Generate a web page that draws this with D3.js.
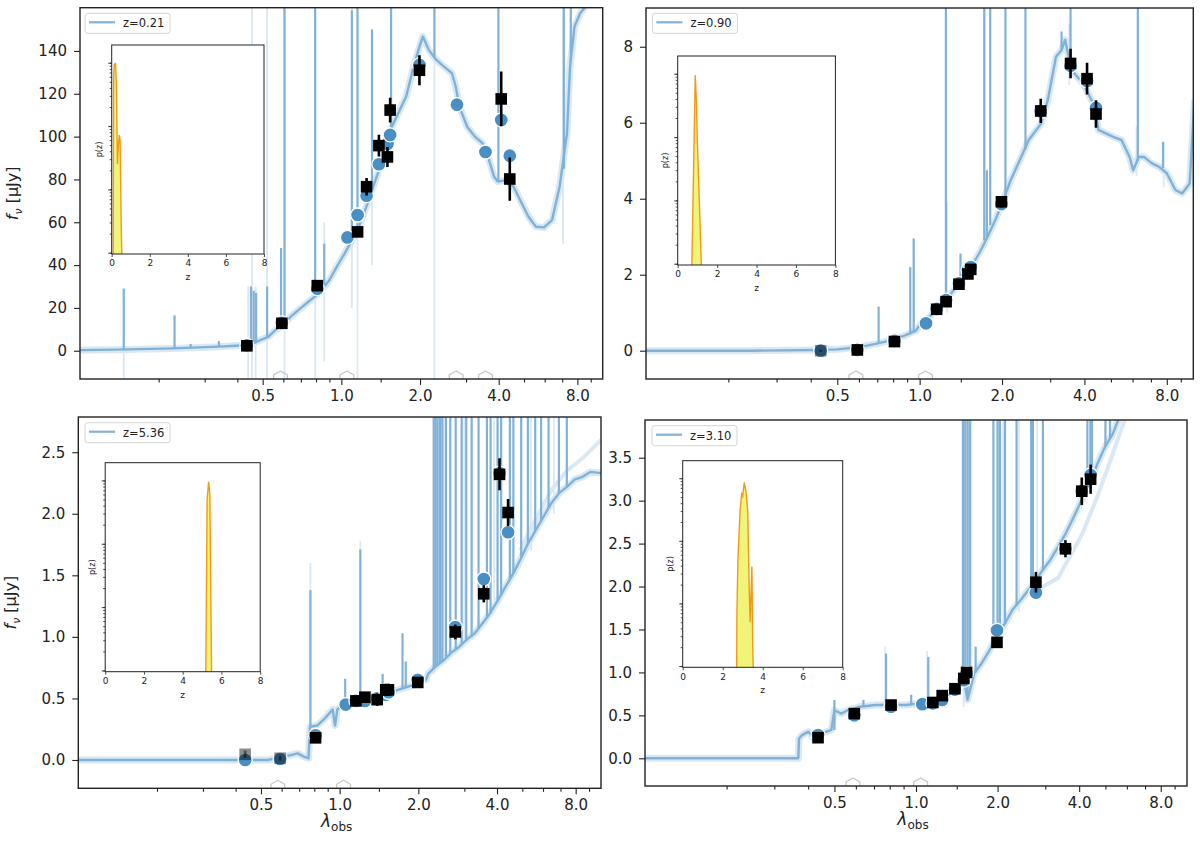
<!DOCTYPE html>
<meta charset="utf-8">
<style>
  body { margin: 0; background: #fff; }
  svg { font-family: "DejaVu Sans", sans-serif; }
</style>
<svg width="1200" height="846"></svg>
<script src="https://cdn.jsdelivr.net/npm/d3@7"></script>
<script>
// filter pivot wavelengths (micron), shared by all four objects
var filterWave = [0.435, 0.592, 0.809, 1.055, 1.154, 1.249, 1.392, 1.501, 1.537, 1.990, 2.77, 3.56, 4.09, 4.41];
var xMajor = [0.5, 1, 2, 4, 8];
var xMinor = [0.2, 0.3, 0.4, 0.6, 0.7, 0.8, 0.9, 1.414, 3, 5, 6, 7, 9];
var zTicks = [0, 2, 4, 6, 8];
var zLabels = ['z=0.21', 'z=0.90', 'z=5.36', 'z=3.10'];

// ---- panel 1 : z=0.21 ----
var tlSpec = [[0.1, 0.3], [0.137, 0.5], [0.227, 1.1], [0.34, 1.9], [0.395, 2.3], [0.43, 2.6], [0.46, 3.4], [0.49, 5.0],
  [0.525, 6.5], [0.56, 9.7], [0.6, 12], [0.64, 15.9], [0.71, 20.6], [0.79, 25.2], [0.84, 28.3], [0.9, 33], [0.96, 39.2],
  [1.03, 45.5], [1.1, 51.7], [1.18, 59.5], [1.26, 68.8], [1.35, 79.7], [1.44, 89.1], [1.54, 103.1], [1.65, 110.9],
  [1.77, 118.7], [1.89, 132.7], [1.99, 142], [2.05, 146.7], [2.16, 140.5], [2.31, 135.8], [2.47, 132.7], [2.65, 129.6],
  [2.74, 123.3], [2.83, 114], [3.03, 104.6], [3.24, 100], [3.47, 96.9], [3.64, 90.6], [3.84, 81.3], [3.97, 79],
  [4.26, 79.7], [4.56, 76.6], [4.83, 70.4], [5.2, 62.6], [5.55, 57.9], [5.96, 57.6], [6.4, 61], [6.84, 76.6],
  [7.3, 101.5], [7.5, 132.7], [7.8, 151.4], [8.2, 157.6], [8.6, 160.7], [9.5, 171]];
var tlSpikes = [[0.147, 0.5, 29], [0.23, 1.1, 16.5], [0.265, 1.2, 3.2], [0.34, 1.9, 4.5], [0.451, 3.2, 30], [0.462, 3.5, 28],
  [0.472, 4.2, 27], [0.52, 6.3, 30], [0.588, 11.5, 48], [0.606, 12.4, 175], [0.794, 25, 175], [0.86, 30, 50],
  [1.097, 51, 159], [1.153, 58, 175], [1.31, 75, 150], [1.55, 104, 175], [2.27, 137, 175], [3.99, 79, 175],
  [7.1, 85, 175], [7.55, 135, 175]];
var tlPale = [[0.147, -14, 29], [0.44, -14, 30], [0.455, -14, 175], [0.47, -14, 30], [0.52, -14, 165], [0.606, -14, 175],
  [0.794, -14, 175], [0.86, -5, 60], [1.097, 20, 175], [1.153, -14, 175], [1.31, 40, 150], [2.27, -14, 175], [7.05, 50, 175]];
var tlModel = [2.5, 13, 29, 52.9, 63.4, 72.4, 87.1, 96.6, 100.8, 133.5, 114.9, 92.8, 107.8, 91.1];
var tlObs = [2.3, 12.8, 30.4, null, 55.5, 76.6, 95.8, 90.5, 112.4, 131.0, null, null, 117.6, 80.2];
var tlErr = [1, 1, 1.5, null, 2, 4.1, 5.1, 4.7, 5.8, 7.0, null, null, 12.8, 10.1];
var tlHex = [0.585, 1.05, 2.75, 3.56];
var tlPdfZ = [0.08, 0.10, 0.14, 0.20, 0.25, 0.30, 0.35, 0.40, 0.44, 0.50, 0.53];
var tlPdfP = [1e-4, 0.6, 0.95, 0.97, 0.4, 0.025, 0.05, 0.072, 0.06, 0.003, 1e-4];

// ---- panel 2 : z=0.90 ----
var trSpec = [[0.1, 0], [0.245, 0], [0.41, 0.02], [0.5, 0.035], [0.61, 0.1], [0.69, 0.18], [0.79, 0.28], [0.89, 0.41],
  [0.97, 0.53], [1.0, 0.68], [1.09, 0.9], [1.16, 1.11], [1.26, 1.38], [1.38, 1.73], [1.53, 2.17], [1.65, 2.56],
  [1.76, 2.96], [1.89, 3.44], [2.0, 3.86], [2.14, 4.45], [2.35, 5.1], [2.5, 5.54], [2.78, 5.98], [2.94, 6.6],
  [3.15, 7.74], [3.3, 7.91], [3.4, 8.18], [3.59, 7.39], [3.95, 7.04], [4.37, 6.42], [4.5, 5.81], [4.79, 5.72],
  [5.1, 5.63], [5.47, 5.54], [5.85, 5.1], [6.03, 4.75], [6.32, 5.1], [6.6, 5.1], [7.06, 4.93], [7.5, 4.84],
  [8.0, 4.67], [8.6, 4.23], [9.1, 4.14], [9.7, 4.4], [10.1, 6.6]];
var trSpikes = [[0.708, 0.18, 1.16], [0.924, 0.43, 2.2], [0.951, 0.48, 2.95], [1.247, 1.37, 9.5], [1.41, 1.82, 2.56],
  [1.723, 2.9, 9.5], [1.76, 3.0, 4.75], [1.811, 3.3, 9.5], [2.058, 3.9, 9.5], [2.436, 5.3, 9.5], [3.3, 7.9, 8.4],
  [3.56, 7.4, 9.5], [6.27, 5.0, 9.5], [7.75, 4.8, 5.5]];
var trPale = [[1.26, 1.0, 3.9], [0.951, 0.5, 2.5], [1.72, 2.8, 9.5], [3.52, 7.0, 8.6], [6.2, 4.6, 5.9], [7.8, 4.3, 5.5]];
var trModel = [0, 0.02, 0.26, 0.72, 1.1, 1.33, 1.77, 2.12, 2.2, 3.86, 6.3, 7.5, 7.1, 6.39];
var trObs = [0, 0.02, 0.24, null, 1.09, 1.29, 1.75, 2.02, 2.14, 3.92, 6.31, 7.56, 7.16, 6.23];
var trErr = [0.03, 0.03, 0.03, null, 0.05, 0.05, 0.05, 0.06, 0.06, 0.15, 0.32, 0.39, 0.42, 0.36];
var trHex = [0.585, 1.05];
var trPdfZ = [0.71, 0.72, 0.80, 0.89, 0.95, 1.0, 1.1, 1.2];
var trPdfP = [1e-4, 0.001, 0.025, 0.95, 0.35, 0.08, 0.009, 1e-4];

// ---- panel 3 : z=5.36 ----
var blSpec = [[0.1, 0], [0.53, 0], [0.61, 0.027], [0.65, 0.04], [0.69, 0.054], [0.73, 0.027], [0.76, 0.014], [0.77, 0.27],
  [0.82, 0.28], [0.88, 0.34], [0.94, 0.41], [0.96, 0.28], [0.98, 0.41], [1.04, 0.46], [1.11, 0.47], [1.23, 0.49],
  [1.36, 0.5], [1.46, 0.53], [1.67, 0.57], [1.92, 0.61], [2.05, 0.66], [2.14, 0.65], [2.18, 0.7], [2.33, 0.76],
  [2.5, 0.81], [2.67, 0.87], [2.87, 0.92], [3.07, 0.98], [3.29, 1.03], [3.52, 1.11], [3.76, 1.19], [4.04, 1.3],
  [4.32, 1.41], [4.63, 1.52], [4.92, 1.63], [5.26, 1.76], [5.64, 1.87], [6.04, 1.98], [6.47, 2.09], [6.93, 2.17],
  [7.42, 2.22], [7.94, 2.28], [8.5, 2.3], [9.1, 2.34], [10, 2.33]];
var blEdge = [[4.9, 1.7], [5.6, 1.95], [6.5, 2.2], [7.4, 2.35], [8.5, 2.45], [10, 2.6]];
var blSpikes = [[0.773, 0.27, 1.38], [1.05, 0.46, 0.66], [1.2, 0.48, 1.71], [1.46, 0.53, 0.7], [1.74, 0.58, 1.03],
  [1.79, 0.59, 0.8], [2.29, 0.74, 3], [2.33, 0.76, 3], [2.37, 0.77, 3], [2.42, 0.78, 3], [2.47, 0.8, 3], [2.55, 0.83, 3],
  [2.65, 0.86, 3], [2.78, 0.9, 3], [2.93, 0.94, 3], [3.05, 0.97, 3], [3.2, 1.0, 3], [3.4, 1.07, 3], [3.66, 1.15, 3],
  [3.78, 1.19, 3], [4.02, 1.29, 3], [4.15, 1.34, 3], [4.48, 1.46, 3], [4.62, 1.52, 3], [4.95, 1.64, 3], [5.25, 1.75, 3],
  [5.6, 1.86, 3], [5.9, 1.94, 3], [6.3, 2.05, 3], [6.9, 2.16, 3], [7.4, 2.22, 3]];
var blPale = [[0.773, 0.3, 1.6], [1.2, 0.5, 1.78], [2.3, 0.7, 3], [2.5, 0.8, 3], [3.0, 0.95, 3], [3.9, 1.2, 3],
  [5.4, 1.7, 3], [6.6, 2.0, 3]];
var blModel = [0, 0.008, 0.2, 0.45, 0.48, 0.48, 0.5, 0.53, 0.55, 0.65, 1.08, 1.47, 2.33, 1.85];
var blObs = [0.046, 0.014, 0.18, null, 0.48, 0.51, 0.49, 0.57, 0.57, 0.63, 1.04, 1.35, 2.32, 2.01];
var blErr = [0.03, 0.02, 0.02, null, 0.03, 0.04, 0.05, 0.05, 0.05, 0.03, 0.06, 0.07, 0.13, 0.11];
var blHex = [0.58, 1.035];
var blPdfZ = [5.19, 5.20, 5.26, 5.34, 5.40, 5.48, 5.49];
var blPdfP = [1e-4, 0.002, 0.5, 0.95, 0.6, 0.002, 1e-4];

// ---- panel 4 : z=3.10 ----
var brSpec = [[0.1, 0], [0.368, 0], [0.37, 0.23], [0.38, 0.27], [0.401, 0.31], [0.42, 0.23], [0.45, 0.29], [0.487, 0.33],
  [0.5, 0.56], [0.53, 0.52], [0.56, 0.56], [0.62, 0.6], [0.71, 0.62], [0.81, 0.62], [0.92, 0.62], [1.04, 0.64],
  [1.15, 0.66], [1.27, 0.7], [1.4, 0.8], [1.51, 0.87], [1.55, 0.68], [1.64, 0.99], [1.75, 1.11], [1.87, 1.26],
  [2.0, 1.46], [2.13, 1.57], [2.27, 1.73], [2.43, 1.84], [2.6, 1.96], [2.78, 2.08], [2.93, 2.19], [3.13, 2.31],
  [3.34, 2.46], [3.57, 2.62], [3.82, 2.81], [4.09, 3.01], [4.38, 3.2], [4.67, 3.43], [4.99, 3.63], [5.33, 3.78],
  [5.7, 4.02]];
var brEdge = [[2.6, 1.9], [3.34, 2.1], [4.09, 2.6], [4.67, 3.05], [5.33, 3.55], [5.9, 3.95]];
var brSpikes = [[0.5, 0.33, 0.68], [0.64, 0.6, 0.68], [0.775, 0.62, 1.22], [0.96, 0.62, 0.74], [1.11, 0.65, 1.18],
  [1.49, 0.86, 4.1], [1.52, 0.87, 4.1], [1.55, 0.7, 4.1], [1.58, 0.9, 4.1], [1.66, 1.0, 1.3], [1.93, 1.35, 4.1],
  [2.0, 1.46, 4.1], [2.04, 1.5, 4.1], [2.13, 1.57, 4.1], [2.35, 1.8, 4.1], [2.66, 2.0, 4.1], [2.7, 2.03, 4.1],
  [2.94, 2.2, 4.1], [4.29, 3.14, 4.1], [4.4, 3.21, 4.1], [4.46, 3.26, 4.1], [5.0, 3.63, 4.1], [5.2, 3.72, 4.1]];
var brPale = [[1.5, 0.6, 4.1], [1.6, 0.9, 4.1], [2.0, 1.3, 4.1], [2.1, 1.4, 4.1], [2.4, 1.7, 4.1], [2.8, 1.9, 4.1],
  [1.1, 0.6, 1.25], [0.77, 0.55, 1.3]];
var brModel = [0.27, 0.5, 0.6, 0.63, 0.64, 0.68, 0.8, 0.91, 0.99, 1.49, 1.93, 2.44, 3.11, 3.3];
var brObs = [0.24, 0.52, 0.62, null, 0.65, 0.73, 0.81, 0.93, 1.0, 1.35, 2.05, 2.44, 3.11, 3.25];
var brErr = [0.02, 0.02, 0.02, null, 0.03, 0.03, 0.03, 0.04, 0.05, 0.04, 0.12, 0.1, 0.16, 0.17];
var brHex = [0.585, 1.04];
var brPdfZ = [2.70, 2.71, 2.76, 2.87, 2.95, 3.0, 3.08, 3.17, 3.25, 3.32, 3.37, 3.46, 3.5, 3.53];
var brPdfP = [1e-4, 0.0066, 0.05, 0.31, 0.56, 0.52, 0.86, 0.6, 0.3, 0.02, 0.005, 0.039, 0.002, 1e-4];

var lineCol = '#80b2d7', paleCol = '#d9e8f3', dotCol = '#4a8fc4';

var panels = [
  { id: 0, box: [80, 7.7, 602.7, 379], yDomain: [-13.2, 160.2], yTicks: [0, 20, 40, 60, 80, 100, 120, 140], fmt: d3.format('d'),
    spec: tlSpec, spikes: tlSpikes, pale: tlPale, model: tlModel, obs: tlObs, err: tlErr, hex: tlHex, faint: [],
    pdfZ: tlPdfZ, pdfP: tlPdfP, inset: [111.7, 45, 264, 254], legend: [85, 13.3], ylabel: true, xlabel: false },
  { id: 1, box: [646, 8, 1193.3, 379], yDomain: [-0.745, 9.02], yTicks: [0, 2, 4, 6, 8], fmt: d3.format('d'),
    spec: trSpec, spikes: trSpikes, pale: trPale, model: trModel, obs: trObs, err: trErr, hex: trHex, faint: [0],
    pdfZ: trPdfZ, pdfP: trPdfP, inset: [677.7, 56, 835.4, 265], legend: [652.4, 13.3], ylabel: false, xlabel: false },
  { id: 2, box: [78.3, 417, 601, 788.3], yDomain: [-0.23, 2.786], yTicks: [0, 0.5, 1, 1.5, 2, 2.5], fmt: d3.format('.1f'),
    spec: blSpec, edge: blEdge, spikes: blSpikes, pale: blPale, model: blModel, obs: blObs, err: blErr, hex: blHex, faint: [0, 1],
    pdfZ: blPdfZ, pdfP: blPdfP, inset: [105.2, 462.7, 260.2, 671.7], legend: [85, 422.7], ylabel: true, xlabel: true },
  { id: 3, box: [645, 420, 1187, 786], yDomain: [-0.3225, 3.939], yTicks: [0, 0.5, 1, 1.5, 2, 2.5, 3, 3.5], fmt: d3.format('.1f'),
    spec: brSpec, edge: brEdge, spikes: brSpikes, pale: brPale, model: brModel, obs: brObs, err: brErr, hex: brHex, faint: [],
    pdfZ: brPdfZ, pdfP: brPdfP, inset: [682.7, 460.7, 842.7, 667.3], legend: [652, 425.7], ylabel: false, xlabel: true }
];

var svg = d3.select('svg');
var defs = svg.append('defs');

panels.forEach(drawPanel);

function drawPanel(p) {
  var b = p.box;
  var x = d3.scaleLog().domain([0.1, 10]).range([b[0], b[2]]);
  var y = d3.scaleLinear().domain(p.yDomain).range([b[3], b[1]]);
  var g = svg.append('g');

  defs.append('clipPath').attr('id', 'clip' + p.id)
    .append('rect').attr('x', b[0]).attr('y', b[1]).attr('width', b[2] - b[0]).attr('height', b[3] - b[1]);
  var plot = g.append('g').attr('clip-path', 'url(#clip' + p.id + ')');

  var line = d3.line().x(d => x(d[0])).y(d => y(d[1]));

  // uncertainty band of the model spectrum
  plot.append('path').datum(p.spec).attr('d', line)
    .attr('fill', 'none').attr('stroke', paleCol).attr('stroke-width', 7).attr('stroke-linejoin', 'round');
  if (p.edge) {
    plot.append('path').datum(p.edge).attr('d', line)
      .attr('fill', 'none').attr('stroke', paleCol).attr('stroke-width', 4);
  }

  plot.selectAll('line.pale').data(p.pale).join('line').attr('class', 'pale')
    .attr('x1', d => x(d[0])).attr('x2', d => x(d[0]))
    .attr('y1', d => y(d[1])).attr('y2', d => y(d[2]))
    .attr('stroke', paleCol).attr('stroke-width', 1.8);

  plot.selectAll('line.spike').data(p.spikes).join('line').attr('class', 'spike')
    .attr('x1', d => x(d[0])).attr('x2', d => x(d[0]))
    .attr('y1', d => y(d[1])).attr('y2', d => y(d[2]))
    .attr('stroke', lineCol).attr('stroke-width', 2.2);

  plot.append('path').datum(p.spec).attr('d', line)
    .attr('fill', 'none').attr('stroke', lineCol).attr('stroke-width', 2.4).attr('stroke-linejoin', 'round');

  // hexagon markers sitting on the bottom axis
  plot.selectAll('path.hex').data(p.hex).join('path').attr('class', 'hex')
    .attr('d', d => {
      var cx = x(d), cy = b[3], r = 8, pts = [];
      for (var k = 0; k < 6; k++) {
        var a = Math.PI / 2 + k * Math.PI / 3;
        pts.push([cx + r * Math.cos(a), cy - r * Math.sin(a)]);
      }
      return 'M' + pts.join('L') + 'Z';
    })
    .attr('fill', 'none').attr('stroke', '#c8c8c8').attr('stroke-width', 1.3);

  // model photometry
  var modelPts = filterWave.map((w, i) => [w, p.model[i]]).filter(d => d[1] != null);
  plot.selectAll('circle.mod').data(modelPts).join('circle').attr('class', 'mod')
    .attr('cx', d => x(d[0])).attr('cy', d => y(d[1])).attr('r', 7)
    .attr('fill', dotCol).attr('stroke', '#fff').attr('stroke-width', 1.3);

  // observed photometry with errors
  var obsPts = filterWave.map((w, i) => [w, p.obs[i], p.err[i], p.faint.indexOf(i) >= 0]).filter(d => d[1] != null);
  plot.selectAll('line.err').data(obsPts).join('line').attr('class', 'err')
    .attr('x1', d => x(d[0])).attr('x2', d => x(d[0]))
    .attr('y1', d => y(d[1] - d[2])).attr('y2', d => y(d[1] + d[2]))
    .attr('stroke', '#000').attr('stroke-width', 2.6).attr('opacity', d => d[3] ? 0.45 : 1);
  plot.selectAll('rect.obs').data(obsPts).join('rect').attr('class', 'obs')
    .attr('x', d => x(d[0]) - 5.8).attr('y', d => y(d[1]) - 5.8).attr('width', 11.6).attr('height', 11.6)
    .attr('fill', '#000').attr('opacity', d => d[3] ? 0.45 : 1);

  // axes
  var xa = g.append('g').attr('transform', 'translate(0,' + b[3] + ')')
    .call(d3.axisBottom(x).tickValues(xMajor).tickFormat(d3.format('.1f')).tickSize(6).tickPadding(5));
  var xm = g.append('g').attr('transform', 'translate(0,' + b[3] + ')')
    .call(d3.axisBottom(x).tickValues(xMinor).tickFormat('').tickSize(3.5));
  var ya = g.append('g').attr('transform', 'translate(' + b[0] + ',0)')
    .call(d3.axisLeft(y).tickValues(p.yTicks).tickFormat(p.fmt).tickSize(6).tickPadding(7));
  [xa, xm, ya].forEach(a => {
    a.select('.domain').remove();
    a.attr('color', '#222').attr('font-family', 'DejaVu Sans, sans-serif').attr('font-size', 15);
    a.selectAll('.tick line').attr('stroke-width', 1.1);
  });

  g.append('rect').attr('x', b[0]).attr('y', b[1]).attr('width', b[2] - b[0]).attr('height', b[3] - b[1])
    .attr('fill', 'none').attr('stroke', '#222').attr('stroke-width', 1.4);

  if (p.ylabel) {
    var yl = g.append('text').attr('transform', 'translate(' + (b[0] - 62) + ',' + ((b[1] + b[3]) / 2) + ') rotate(-90)')
      .attr('text-anchor', 'middle').attr('font-size', 16).attr('fill', '#222');
    yl.append('tspan').attr('font-style', 'italic').text('f');
    yl.append('tspan').attr('font-style', 'italic').attr('font-size', 11).attr('dy', 4).text('ν');
    yl.append('tspan').attr('dy', -4).text(' [μJy]');
  }
  if (p.xlabel) {
    var xl = g.append('text').attr('x', x(1.0) - 3).attr('y', b[3] + 39)
      .attr('text-anchor', 'middle').attr('font-size', 17).attr('fill', '#222');
    xl.append('tspan').attr('font-style', 'italic').text('λ');
    xl.append('tspan').attr('font-size', 12).attr('dy', 4).text('obs');
  }

  // legend
  var lg = g.append('g').attr('transform', 'translate(' + p.legend[0] + ',' + p.legend[1] + ')');
  lg.append('rect').attr('width', 85).attr('height', 20).attr('rx', 2.5)
    .attr('fill', '#fff').attr('stroke', '#d4d4d4').attr('stroke-width', 1);
  lg.append('line').attr('x1', 4).attr('x2', 30).attr('y1', 9).attr('y2', 9)
    .attr('stroke', lineCol).attr('stroke-width', 2.2);
  lg.append('text').attr('x', 38).attr('y', 14).attr('font-size', 11.5).attr('fill', '#222').text(zLabels[p.id]);

  drawInset(p);
}

function drawInset(p) {
  var r = p.inset;
  var g = svg.append('g');
  var ix = d3.scaleLinear().domain([0, 8]).range([r[0], r[2]]);
  var iy = d3.scaleLog().domain([Math.pow(10, -3.02), Math.pow(10, 0.28)]).range([r[3], r[1]]).clamp(true);

  g.append('rect').attr('x', r[0]).attr('y', r[1]).attr('width', r[2] - r[0]).attr('height', r[3] - r[1]).attr('fill', '#fff');

  var pdf = p.pdfZ.map((z, i) => [z, p.pdfP[i]]);
  g.append('path').datum(pdf)
    .attr('d', d3.area().x(d => ix(d[0])).y0(r[3]).y1(d => iy(d[1])))
    .attr('fill', '#f0f57a');
  g.append('path').datum(pdf)
    .attr('d', d3.line().x(d => ix(d[0])).y(d => iy(d[1])))
    .attr('fill', 'none').attr('stroke', '#f29a18').attr('stroke-width', 1.4);

  var ax = g.append('g').attr('transform', 'translate(0,' + r[3] + ')')
    .call(d3.axisBottom(ix).tickValues(zTicks).tickFormat(d3.format('d')).tickSize(3).tickPadding(3));
  var logTicks = iy.ticks();
  var ay = g.append('g').attr('transform', 'translate(' + r[0] + ',0)')
    .call(d3.axisLeft(iy).tickValues(logTicks.filter(t => Math.abs(Math.log10(t) - Math.round(Math.log10(t))) < 1e-6)).tickFormat('').tickSize(3.5));
  var ay2 = g.append('g').attr('transform', 'translate(' + r[0] + ',0)')
    .call(d3.axisLeft(iy).tickValues(logTicks).tickFormat('').tickSize(2));
  [ax, ay, ay2].forEach(a => {
    a.select('.domain').remove();
    a.attr('color', '#222').attr('font-family', 'DejaVu Sans, sans-serif').attr('font-size', 9);
    a.selectAll('.tick line').attr('stroke-width', 0.8);
  });

  g.append('rect').attr('x', r[0]).attr('y', r[1]).attr('width', r[2] - r[0]).attr('height', r[3] - r[1])
    .attr('fill', 'none').attr('stroke', '#222').attr('stroke-width', 1);

  g.append('text').attr('x', (r[0] + r[2]) / 2).attr('y', r[3] + 26).attr('text-anchor', 'middle')
    .attr('font-size', 9).attr('fill', '#222').text('z');
  g.append('text').attr('transform', 'translate(' + (r[0] - 10) + ',' + (r[1] + (r[3] - r[1]) * 0.5) + ') rotate(-90)')
    .attr('text-anchor', 'middle').attr('font-size', 8).attr('fill', '#222').text('p(z)');
}
</script>
